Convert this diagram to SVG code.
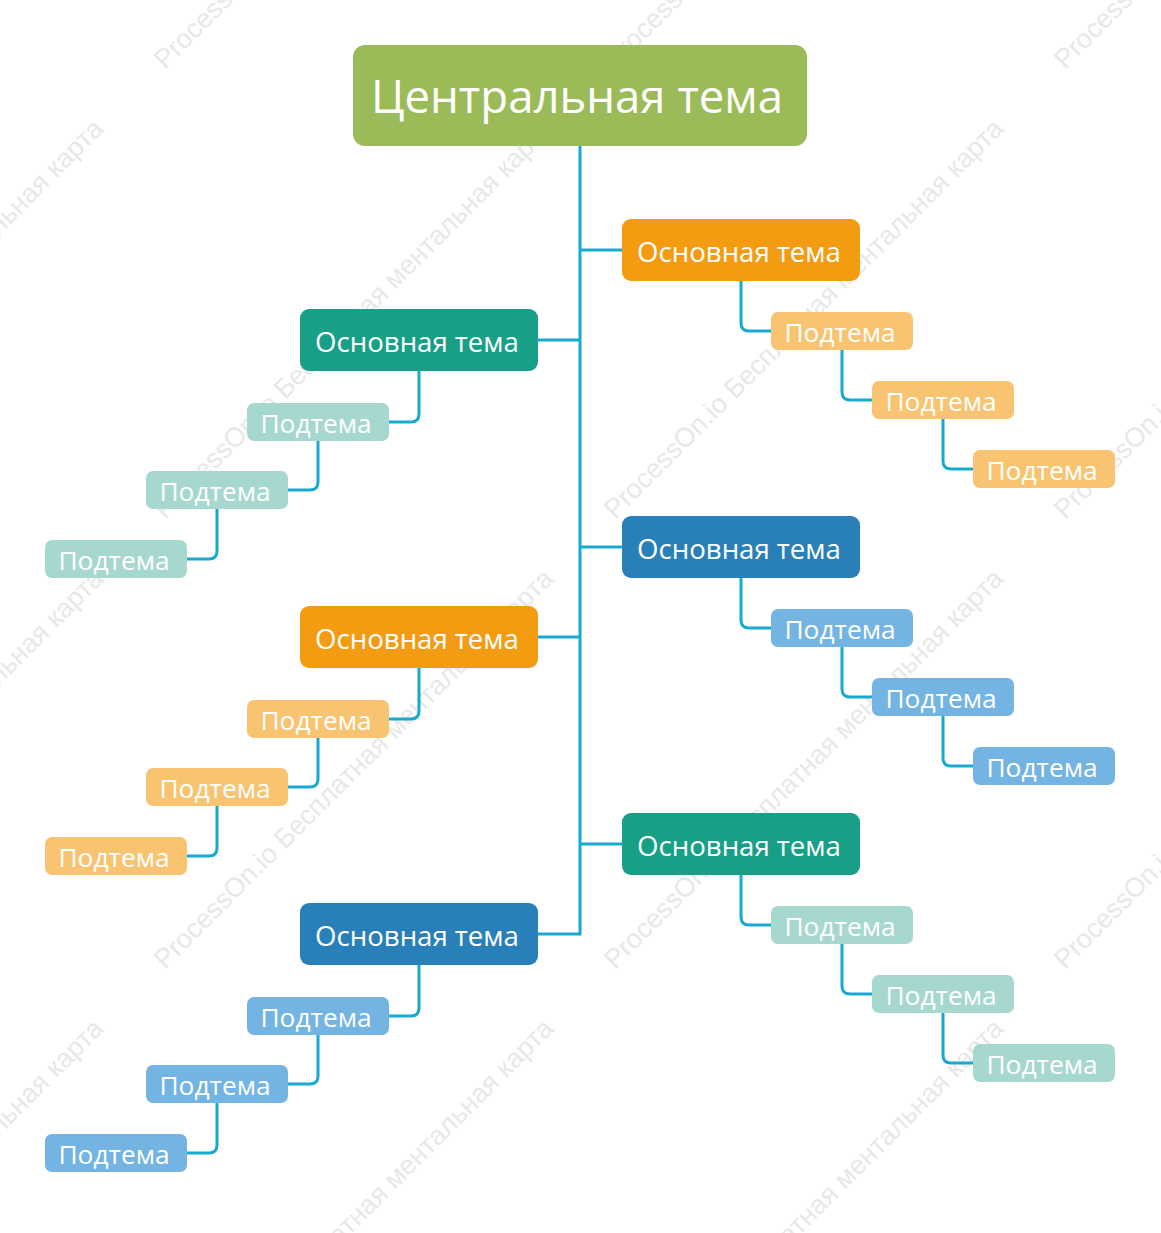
<svg xmlns="http://www.w3.org/2000/svg" width="1161" height="1233" viewBox="0 0 1161 1233">
<style>
.wm{font-family:"Liberation Sans",Arial,sans-serif;font-size:27px;fill:#E8E8E8}
.t{font-family:"Open Sans","Noto Sans",sans-serif;fill:#fff;text-anchor:middle}
.c{font-size:45.5px}
.m{font-size:27.6px}
.s{font-size:26.3px}
.ln{fill:none;stroke:#18A9D0;stroke-width:3}
.cen{fill:#9BBB59}
.mo{fill:#F39C12}.so{fill:#F8C471}
.mt{fill:#17A086}.st{fill:#A7D8CF}
.mb{fill:#2980B9}.sb{fill:#74B4E3}
</style>
<rect width="1161" height="1233" fill="#fff"/>
<g id="watermarks">
<text class="wm" transform="translate(-285,70) rotate(-45)">ProcessOn.io Бесплатная ментальная карта</text>
<text class="wm" transform="translate(165,70) rotate(-45)">ProcessOn.io Бесплатная ментальная карта</text>
<text class="wm" transform="translate(615,70) rotate(-45)">ProcessOn.io Бесплатная ментальная карта</text>
<text class="wm" transform="translate(1065,70) rotate(-45)">ProcessOn.io Бесплатная ментальная карта</text>
<text class="wm" transform="translate(-285,520) rotate(-45)">ProcessOn.io Бесплатная ментальная карта</text>
<text class="wm" transform="translate(165,520) rotate(-45)">ProcessOn.io Бесплатная ментальная карта</text>
<text class="wm" transform="translate(615,520) rotate(-45)">ProcessOn.io Бесплатная ментальная карта</text>
<text class="wm" transform="translate(1065,520) rotate(-45)">ProcessOn.io Бесплатная ментальная карта</text>
<text class="wm" transform="translate(-285,970) rotate(-45)">ProcessOn.io Бесплатная ментальная карта</text>
<text class="wm" transform="translate(165,970) rotate(-45)">ProcessOn.io Бесплатная ментальная карта</text>
<text class="wm" transform="translate(615,970) rotate(-45)">ProcessOn.io Бесплатная ментальная карта</text>
<text class="wm" transform="translate(1065,970) rotate(-45)">ProcessOn.io Бесплатная ментальная карта</text>
<text class="wm" transform="translate(-285,1420) rotate(-45)">ProcessOn.io Бесплатная ментальная карта</text>
<text class="wm" transform="translate(165,1420) rotate(-45)">ProcessOn.io Бесплатная ментальная карта</text>
<text class="wm" transform="translate(615,1420) rotate(-45)">ProcessOn.io Бесплатная ментальная карта</text>
</g>
<g id="connectors" class="ln">
<path d="M580,146V934H538"/>
<path d="M580,250H622"/>
<path d="M580,547H622"/>
<path d="M580,844H622"/>
<path d="M580,340H538"/>
<path d="M580,637H538"/>
<path d="M741,281V323Q741,331 749,331H771"/>
<path d="M842,350V392Q842,400 850,400H872"/>
<path d="M943,419V461Q943,469 951,469H973"/>
<path d="M741,578V620Q741,628 749,628H771"/>
<path d="M842,647V689Q842,697 850,697H872"/>
<path d="M943,716V758Q943,766 951,766H973"/>
<path d="M741,875V917Q741,925 749,925H771"/>
<path d="M842,944V986Q842,994 850,994H872"/>
<path d="M943,1013V1055Q943,1063 951,1063H973"/>
<path d="M419,371V414Q419,422 411,422H389"/>
<path d="M318,441V482Q318,490 310,490H288"/>
<path d="M217,509V551Q217,559 209,559H187"/>
<path d="M419,668V711Q419,719 411,719H389"/>
<path d="M318,738V779Q318,787 310,787H288"/>
<path d="M217,806V848Q217,856 209,856H187"/>
<path d="M419,965V1008Q419,1016 411,1016H389"/>
<path d="M318,1035V1076Q318,1084 310,1084H288"/>
<path d="M217,1103V1145Q217,1153 209,1153H187"/>
</g>
<g id="central"><rect class="cen" x="353" y="45" width="454" height="101" rx="12"/><text class="t c" x="577" y="113">Центральная тема</text></g>

<g id="r1"><rect class="mo" x="622" y="219" width="238" height="62" rx="9"/><text class="t m" x="739" y="262">Основная тема</text></g>
<g id="r1s1"><rect class="so" x="771" y="312" width="142" height="38" rx="7"/><text class="t s" x="840" y="342">Подтема</text></g>
<g id="r1s2"><rect class="so" x="872" y="381" width="142" height="38" rx="7"/><text class="t s" x="941" y="411">Подтема</text></g>
<g id="r1s3"><rect class="so" x="973" y="450" width="142" height="38" rx="7"/><text class="t s" x="1042" y="480">Подтема</text></g>

<g id="r2"><rect class="mb" x="622" y="516" width="238" height="62" rx="9"/><text class="t m" x="739" y="559">Основная тема</text></g>
<g id="r2s1"><rect class="sb" x="771" y="609" width="142" height="38" rx="7"/><text class="t s" x="840" y="639">Подтема</text></g>
<g id="r2s2"><rect class="sb" x="872" y="678" width="142" height="38" rx="7"/><text class="t s" x="941" y="708">Подтема</text></g>
<g id="r2s3"><rect class="sb" x="973" y="747" width="142" height="38" rx="7"/><text class="t s" x="1042" y="777">Подтема</text></g>

<g id="r3"><rect class="mt" x="622" y="813" width="238" height="62" rx="9"/><text class="t m" x="739" y="856">Основная тема</text></g>
<g id="r3s1"><rect class="st" x="771" y="906" width="142" height="38" rx="7"/><text class="t s" x="840" y="936">Подтема</text></g>
<g id="r3s2"><rect class="st" x="872" y="975" width="142" height="38" rx="7"/><text class="t s" x="941" y="1005">Подтема</text></g>
<g id="r3s3"><rect class="st" x="973" y="1044" width="142" height="38" rx="7"/><text class="t s" x="1042" y="1074">Подтема</text></g>

<g id="l1"><rect class="mt" x="300" y="309" width="238" height="62" rx="9"/><text class="t m" x="417" y="352">Основная тема</text></g>
<g id="l1s1"><rect class="st" x="247" y="403" width="142" height="38" rx="7"/><text class="t s" x="316" y="433">Подтема</text></g>
<g id="l1s2"><rect class="st" x="146" y="471" width="142" height="38" rx="7"/><text class="t s" x="215" y="501">Подтема</text></g>
<g id="l1s3"><rect class="st" x="45" y="540" width="142" height="38" rx="7"/><text class="t s" x="114" y="570">Подтема</text></g>

<g id="l2"><rect class="mo" x="300" y="606" width="238" height="62" rx="9"/><text class="t m" x="417" y="649">Основная тема</text></g>
<g id="l2s1"><rect class="so" x="247" y="700" width="142" height="38" rx="7"/><text class="t s" x="316" y="730">Подтема</text></g>
<g id="l2s2"><rect class="so" x="146" y="768" width="142" height="38" rx="7"/><text class="t s" x="215" y="798">Подтема</text></g>
<g id="l2s3"><rect class="so" x="45" y="837" width="142" height="38" rx="7"/><text class="t s" x="114" y="867">Подтема</text></g>

<g id="l3"><rect class="mb" x="300" y="903" width="238" height="62" rx="9"/><text class="t m" x="417" y="946">Основная тема</text></g>
<g id="l3s1"><rect class="sb" x="247" y="997" width="142" height="38" rx="7"/><text class="t s" x="316" y="1027">Подтема</text></g>
<g id="l3s2"><rect class="sb" x="146" y="1065" width="142" height="38" rx="7"/><text class="t s" x="215" y="1095">Подтема</text></g>
<g id="l3s3"><rect class="sb" x="45" y="1134" width="142" height="38" rx="7"/><text class="t s" x="114" y="1164">Подтема</text></g>
</svg>
